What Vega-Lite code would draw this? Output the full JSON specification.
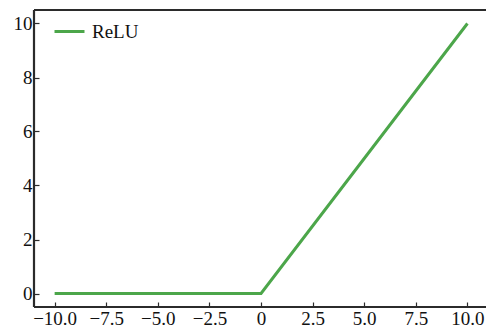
{
  "$schema": "https://vega.github.io/schema/vega-lite/v6.json",
  "width": 452,
  "height": 297,
  "padding": {"left": 34, "top": 10, "right": 0, "bottom": 24},
  "autosize": {"type": "none"},
  "background": "white",
  "config": {
    "view": {"stroke": null},
    "font": "Liberation Serif",
    "axis": {
      "labelFont": "Liberation Serif",
      "labelFontSize": 19,
      "labelColor": "#111111",
      "domain": false,
      "tickColor": "#2b2b2b",
      "tickWidth": 1.2,
      "grid": false,
      "title": null
    }
  },
  "datasets": {
    "relu": [
      {"x": -10, "y": 0, "series": "ReLU"},
      {"x": 0, "y": 0, "series": "ReLU"},
      {"x": 10, "y": 10, "series": "ReLU"}
    ],
    "frameH": [{"y": -0.5}, {"y": 10.5}],
    "frameV": [{"x": -11}]
  },
  "layer": [
    {
      "data": {"name": "frameH"},
      "mark": {"type": "rule", "color": "#2b2b2b", "strokeWidth": 2.2},
      "encoding": {
        "y": {"field": "y", "type": "quantitative"}
      }
    },
    {
      "data": {"name": "frameV"},
      "mark": {"type": "rule", "color": "#2b2b2b", "strokeWidth": 2.2},
      "encoding": {
        "x": {"field": "x", "type": "quantitative"}
      }
    },
    {
      "data": {"name": "relu"},
      "mark": {"type": "line", "strokeWidth": 3, "clip": true},
      "encoding": {
        "x": {
          "field": "x",
          "type": "quantitative",
          "scale": {"domain": [-11, 10.9], "nice": false, "zero": false},
          "axis": {
            "values": [-10, -7.5, -5, -2.5, 0, 2.5, 5, 7.5, 10],
            "labelExpr": "datum.value === 0 ? '0' : replace(format(datum.value, '.1f'), '-', '\u2212')",
            "tickSize": -5,
            "labelPadding": 7,
            "labelFlush": false,
            "labelOverlap": false
          }
        },
        "y": {
          "field": "y",
          "type": "quantitative",
          "scale": {"domain": [-0.5, 10.5], "nice": false, "zero": false},
          "axis": {
            "values": [0, 2, 4, 6, 8, 10],
            "tickSize": -5,
            "labelPadding": 7,
            "labelFlush": false,
            "labelOverlap": false
          }
        },
        "color": {
          "field": "series",
          "type": "nominal",
          "scale": {"range": ["#4ca64a"]},
          "legend": {
            "title": null,
            "orient": "none",
            "legendX": 19,
            "legendY": 5,
            "symbolType": "stroke",
            "symbolSize": 900,
            "symbolStrokeWidth": 3,
            "labelFont": "Liberation Serif",
            "labelFontSize": 19,
            "labelColor": "#111111",
            "labelOffset": 6,
            "padding": 0
          }
        }
      }
    }
  ]
}
